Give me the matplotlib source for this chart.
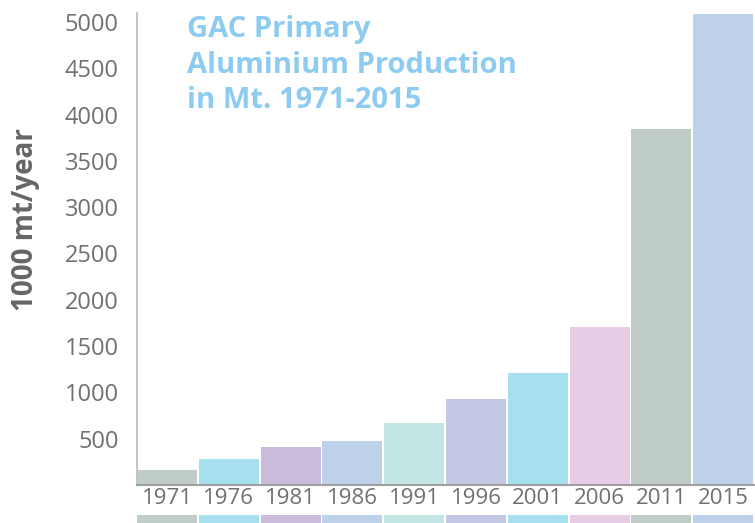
import matplotlib
matplotlib.use("Agg")
import matplotlib.pyplot as plt

years = ["1971", "1976", "1981", "1986", "1991", "1996", "2001", "2006", "2011", "2015"]
production = [165, 283, 413, 478, 673, 932, 1214, 1711, 3842, 5087]
colors = ["#BFCCC8", "#A6E0EE", "#C8BBDC", "#BDD1EA", "#C3E6E4",
          "#C3C8E5", "#A6E0EE", "#E8CBE4", "#BFCCC8", "#BDD1EA"]
yticks = [500, 1000, 1500, 2000, 2500, 3000, 3500, 4000, 4500, 5000]

plt.rcParams['font.family'] = ['Open Sans', 'DejaVu Sans']

W, H = 755, 523
fig = plt.figure(figsize=(W / 100, H / 100), dpi=100)

left, right, bottom, top = 137, 755, 485, 13
ax = fig.add_axes([left / W, 1 - bottom / H, (right - left) / W, (bottom - top) / H])

xpos = list(range(len(years)))
ax.bar(xpos, production, width=0.97, align='edge', color=colors, linewidth=0)
ax.set_xlim(0, 10)
ax.set_ylim(0, 5097)
ax.set_yticks(yticks)
ax.set_yticklabels([str(v) for v in yticks], fontsize=17, color="#707070")
ax.set_xticks([p + 0.485 for p in xpos])
ax.set_xticklabels(years, fontsize=16, color="#707070")
ax.tick_params(axis='y', length=0, pad=13)
ax.tick_params(axis='x', length=0, pad=2)
for s in ['top', 'right']:
    ax.spines[s].set_visible(False)
ax.spines['left'].set_color("#c4c4c4")
ax.spines['left'].set_linewidth(1.5)
ax.spines['bottom'].set_color("#a0a0a0")
ax.spines['bottom'].set_linewidth(1.5)

# bottom colour strip
ax2 = fig.add_axes([left / W, 0, (right - left) / W, 8 / H])
ax2.bar(xpos, [1] * len(years), width=0.97, align='edge', color=colors, linewidth=0)
ax2.set_xlim(0, 10)
ax2.set_ylim(0, 1)
ax2.axis('off')

fig.text(25 / W, 1 - 220 / H, "1000 mt/year", rotation=90, fontsize=20,
         fontweight='bold', color="#666666", ha='center', va='center')

fig.text(187 / W, 1 - 15 / H, "GAC Primary\nAluminium Production\nin Mt. 1971-2015",
         fontsize=21, fontweight='bold', color="#8DCBF0", ha='left', va='top',
         linespacing=1.3)

fig.savefig("out.png", dpi=100)
